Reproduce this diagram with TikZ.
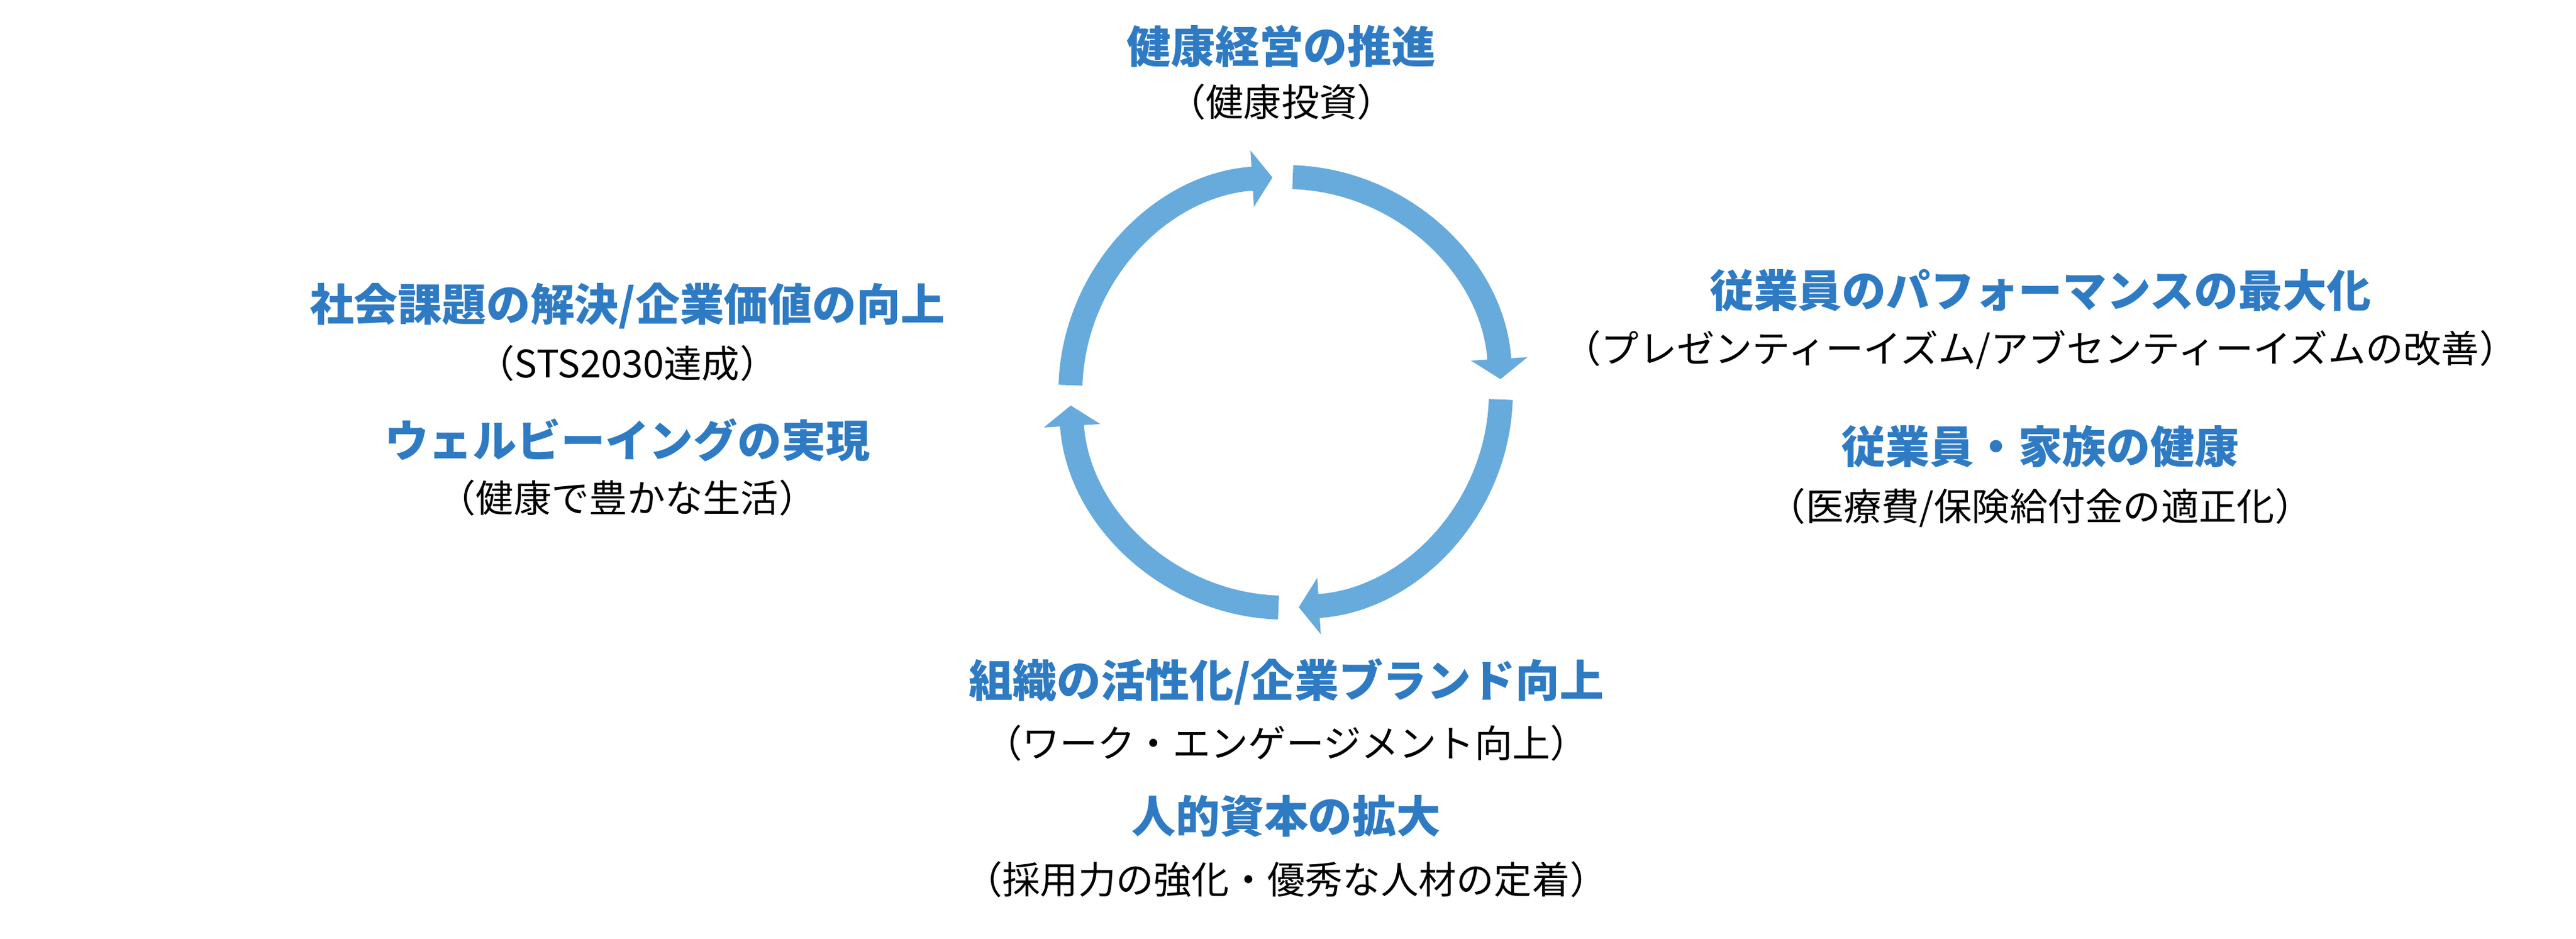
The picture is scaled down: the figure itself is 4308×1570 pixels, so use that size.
\documentclass[tikz,border=0pt]{standalone}
\usepackage{fontspec}
\setmainfont{Noto Sans CJK JP}
\usetikzlibrary{arrows.meta,calc}
\definecolor{hd}{HTML}{2E7BC4}
\definecolor{ar}{HTML}{67AADC}
\tikzset{
  head/.style={text=hd,font=\fontsize{21}{25}\selectfont\bfseries,inner sep=0pt},
  sub/.style={text=black,font=\fontsize{18}{22}\selectfont,inner sep=0pt},
  seg/.style={draw=ar,line width=4mm,-{Triangle[width=9.3mm,length=3.4mm]}}
}
\begin{document}
\begin{tikzpicture}[x=0.1mm,y=-0.1mm]
\useasboundingbox (0,0) rectangle (4308,1570);
\coordinate (c) at (2150,656);
\draw[seg] ($(c)+(-178.1:360)$) arc[start angle=-178.1,end angle=-93.5,radius=360];
\draw[seg] ($(c)+(-88.1:360)$) arc[start angle=-88.1,end angle=-3.5,radius=360];
\draw[seg] ($(c)+(1.9:360)$) arc[start angle=1.9,end angle=86.5,radius=360];
\draw[seg] ($(c)+(91.9:360)$) arc[start angle=91.9,end angle=176.5,radius=360];
\node[head] (t1) at (2143,77) {健康経営の推進};
\node[sub] (t1s) at (2143,170) {（健康投資）};
\node[head] (r1) at (3412,486) {従業員のパフォーマンスの最大化};
\node[sub] (r1s) at (3412,585) {（プレゼンティーイズム/アブセンティーイズムの改善）};
\node[head] (r2) at (3412,747) {従業員・家族の健康};
\node[sub] (r2s) at (3412,849) {（医療費/保険給付金の適正化）};
\node[head] (b1) at (2151,1140) {組織の活性化/企業ブランド向上};
\node[sub] (b1s) at (2151,1242) {（ワーク・エンゲージメント向上）};
\node[head] (b2) at (2151,1365) {人的資本の拡大};
\node[sub] (b2s) at (2151,1470) {（採用力の強化・優秀な人材の定着）};
\node[head] (l1) at (1049,511) {社会課題の解決/企業価値の向上};
\node[sub] (l1s) at (1049,607) {（STS2030達成）};
\node[head] (l2) at (1049,736) {ウェルビーイングの実現};
\node[sub] (l2s) at (1049,832) {（健康で豊かな生活）};
\end{tikzpicture}
\end{document}
